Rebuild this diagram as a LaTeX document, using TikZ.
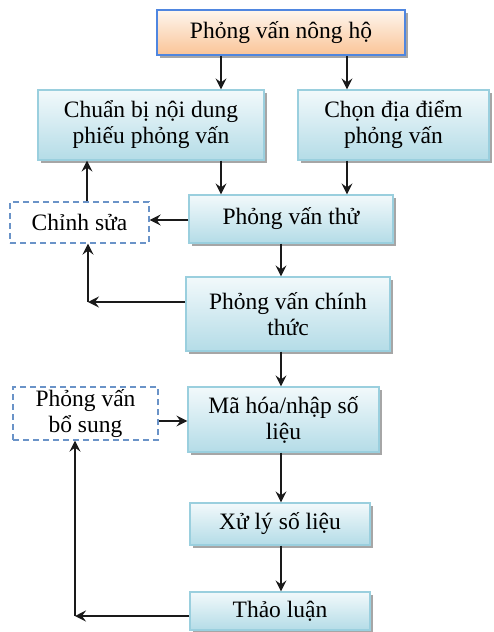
\documentclass[tikz,border=0pt]{standalone}
\usepackage{fontspec}
\setmainfont{Liberation Serif}
\usetikzlibrary{shadows,arrows.meta}
\definecolor{boxtop}{HTML}{F2F9FB}
\definecolor{boxbot}{HTML}{B4DCE7}
\definecolor{boxline}{HTML}{9ACFDE}
\definecolor{pktop}{HTML}{FEF6EE}
\definecolor{pkbot}{HTML}{FAC497}
\definecolor{pkline}{HTML}{4F86E0}
\definecolor{dashline}{HTML}{6A93C8}
\definecolor{arrcol}{HTML}{1A1A1A}
\tikzset{
  every node/.style={font=\fontsize{23.5}{26}\selectfont, align=center, inner sep=0pt},
  bluebox/.style={draw=boxline, line width=1.2pt, top color=boxtop, bottom color=boxbot,
    drop shadow={shadow xshift=3pt, shadow yshift=-3pt, fill=black, opacity=0.35}},
  peachbox/.style={draw=pkline, line width=1.5pt, top color=pktop, bottom color=pkbot,
    drop shadow={shadow xshift=3pt, shadow yshift=-3pt, fill=black, opacity=0.35}},
  dashbox/.style={draw=dashline, line width=1.3pt, dash pattern=on 6pt off 4pt, fill=white},
  arr/.style={draw=arrcol, line width=1.5pt, -{Stealth[length=11pt,width=11pt,inset=4pt]}}
}
\begin{document}
\begin{tikzpicture}[x=1pt,y=-1pt]
\useasboundingbox (0,0) rectangle (493,632);
\node[peachbox, minimum width=248pt, minimum height=45pt] (top) at (281,32.5) {Phỏng vấn nông hộ};
\node[bluebox, minimum width=226pt, minimum height=70pt] (cb) at (151,125) {Chuẩn bị nội dung\\phiếu phỏng vấn};
\node[bluebox, minimum width=191pt, minimum height=70pt] (chon) at (393.5,125) {Chọn địa điểm\\phỏng vấn};
\node[bluebox, minimum width=204pt, minimum height=48pt] (pvt) at (291,219) {Phỏng vấn thử};
\node[dashbox, minimum width=139pt, minimum height=41pt] (cs) at (79.5,222.5) {Chỉnh sửa};
\node[bluebox, minimum width=204pt, minimum height=74pt] (pvct) at (288,314) {Phỏng vấn chính\\thức};
\node[bluebox, minimum width=191pt, minimum height=65pt] (mh) at (283.5,419.5) {Mã hóa/nhập số\\liệu};
\node[dashbox, minimum width=145pt, minimum height=53pt] (pvbs) at (85.5,413.5) {Phỏng vấn\\bổ sung};
\node[bluebox, minimum width=180pt, minimum height=42pt] (xl) at (280,524) {Xử lý số liệu};
\node[bluebox, minimum width=180pt, minimum height=38pt] (tl) at (280,611) {Thảo luận};

\coordinate (xa) at (221,0);
\coordinate (xb) at (347,0);
\coordinate (xc) at (87,0);
\coordinate (xd) at (281,0);
\coordinate (yb) at (0,220);
\coordinate (c1) at (88,302);
\coordinate (c2) at (75,616);
\coordinate (ya) at (0,421);

\draw[arr] (top.south -| xa) -- (cb.north -| xa);
\draw[arr] (top.south -| xb) -- (chon.north -| xb);
\draw[arr] (cb.south -| xa) -- (pvt.north -| xa);
\draw[arr] (chon.south -| xb) -- (pvt.north -| xb);
\draw[arr] (pvt.west |- yb) -- (cs.east |- yb);
\draw[arr] (cs.north -| xc) -- (cb.south -| xc);
\draw[arr] (pvt.south -| xd) -- (pvct.north -| xd);
\draw[arr] (pvct.west |- c1) -- (c1);
\draw[arr] (c1) -- (cs.south -| c1);
\draw[arr] (pvct.south -| xd) -- (mh.north -| xd);
\draw[arr] (pvbs.east |- ya) -- (mh.west |- ya);
\draw[arr] (mh.south -| xd) -- (xl.north -| xd);
\draw[arr] (xl.south -| xd) -- (tl.north -| xd);
\draw[arr] (tl.west |- c2) -- (c2);
\draw[arr] (c2) -- (pvbs.south -| c2);
\end{tikzpicture}
\end{document}
